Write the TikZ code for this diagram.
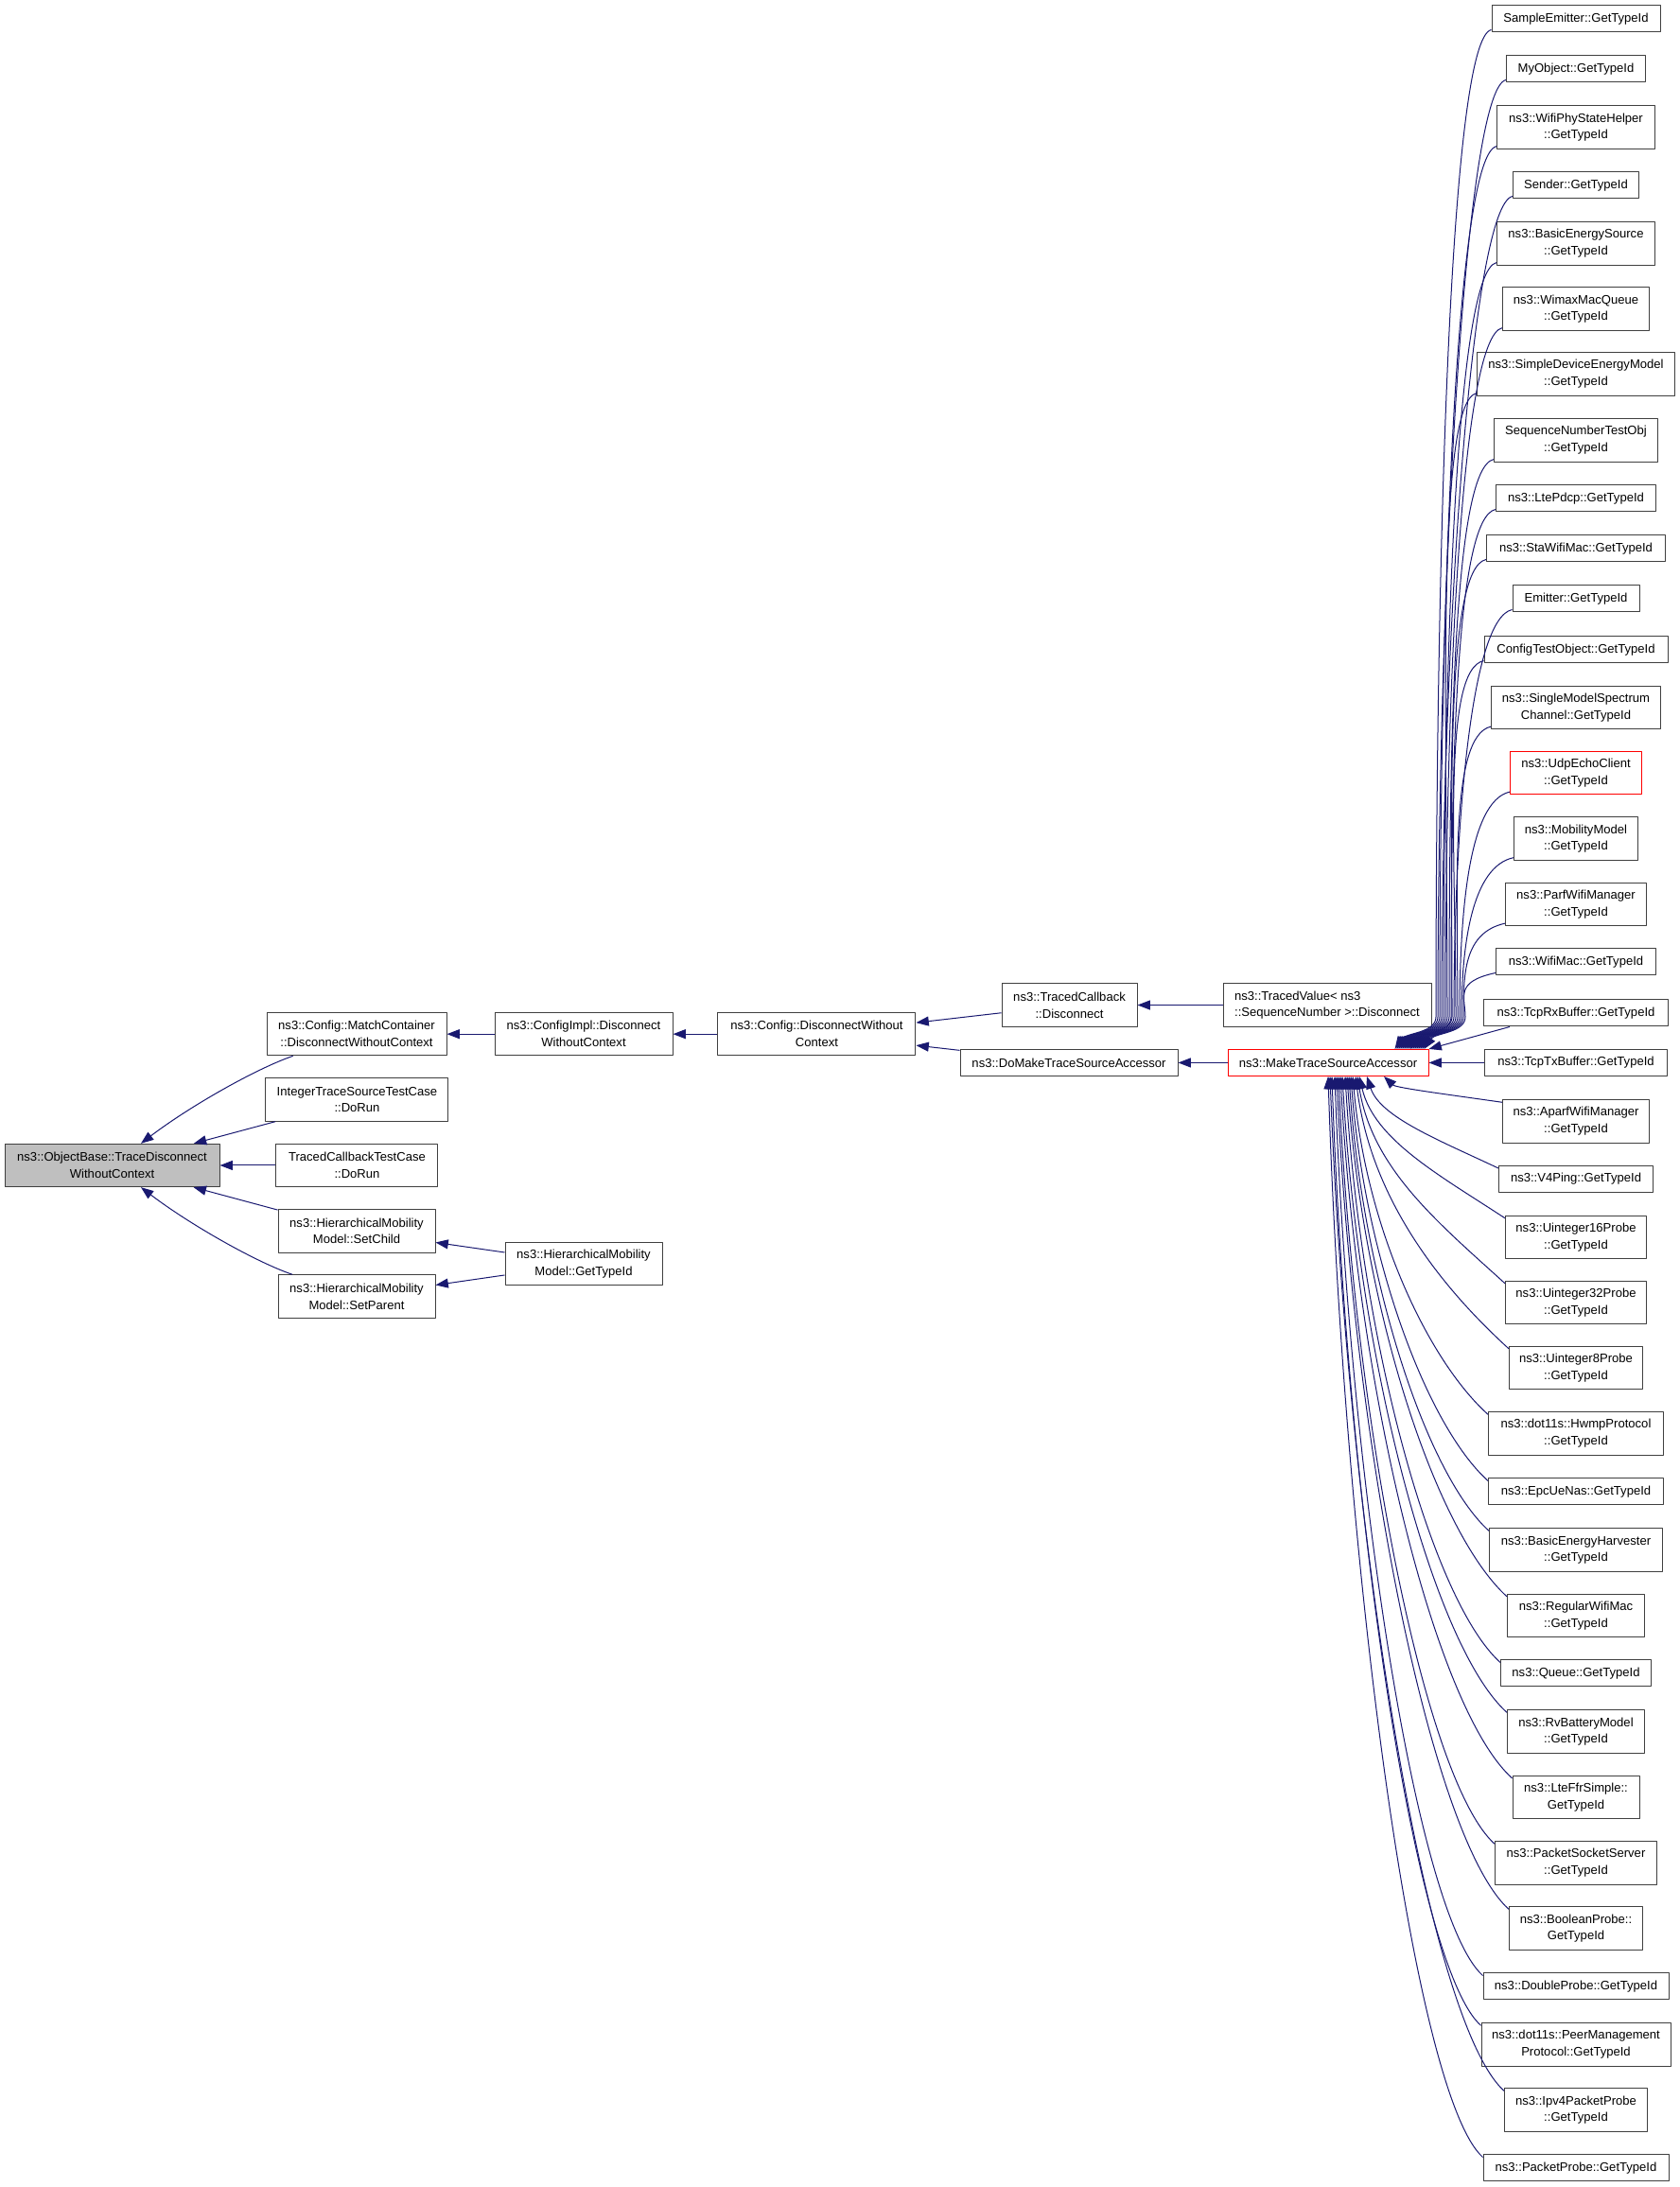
\documentclass[tikz,border=0pt]{standalone}
\usepackage{fontspec}
\setmainfont{Liberation Sans}
\usetikzlibrary{arrows.meta}
\definecolor{midnightblue}{HTML}{191970}
\tikzset{
  fn/.style={draw=black!75,fill=white,rectangle,line width=0.75bp,align=center,inner sep=2bp,
    minimum height=21bp,font=\fontsize{9.8bp}{13.3bp}\selectfont},
  fn2/.style={minimum height=34bp},
  arr/.style={draw=midnightblue,line width=0.75bp,<-},
}
\begin{document}
\begin{tikzpicture}[>={Triangle[length=10bp,width=7.5bp]},line join=bevel,]
    \useasboundingbox (0bp,0bp) rectangle (1332bp,1734bp);
    %%
    \node (1) at (88.9bp,810bp) [fn,fn2,fill=black!25,minimum width=170.25bp] {ns3::ObjectBase::TraceDisconnect\\WithoutContext};
    \node (2) at (282.75bp,914.1bp) [fn,fn2,minimum width=142.5bp] {ns3::Config::MatchContainer\\::DisconnectWithoutContext};
    \node (3) at (283.1bp,862.1bp) [fn,fn2,minimum width=144.75bp] {IntegerTraceSourceTestCase\\::DoRun};
    \node (4) at (283.1bp,810bp) [fn,fn2,minimum width=128.25bp] {TracedCallbackTestCase\\::DoRun};
    \node (5) at (282.75bp,757.9bp) [fn,fn2,minimum width=124.5bp] {ns3::HierarchicalMobility\\Model::SetChild};
    \node (6) at (282.75bp,706.1bp) [fn,fn2,minimum width=124.5bp] {ns3::HierarchicalMobility\\Model::SetParent};
    \node (7) at (462.75bp,914.1bp) [fn,fn2,minimum width=141bp] {ns3::ConfigImpl::Disconnect\\WithoutContext};
    \node (8) at (462.75bp,732bp) [fn,fn2,minimum width=124.5bp] {ns3::HierarchicalMobility\\Model::GetTypeId};
    \node (9) at (647.6bp,914.1bp) [fn,fn2,minimum width=156.75bp] {ns3::Config::DisconnectWithout\\Context};
    \node (10) at (847.9bp,937.1bp) [fn,fn2,minimum width=107.25bp] {ns3::TracedCallback\\::Disconnect};
    \node (11) at (847.5bp,891.4bp) [fn,minimum width=172.5bp] {ns3::DoMakeTraceSourceAccessor};
    \node (12) at (1052.25bp,937.1bp) [fn,fn2,align=left,minimum width=165bp] {ns3::TracedValue< ns3\\::SequenceNumber >::Disconnect};
    \node (13) at (1053bp,891.4bp) [fn,draw=red,minimum width=159bp] {ns3::MakeTraceSourceAccessor};
    \node (14) at (1249.5bp,1719bp) [fn,minimum width=133.5bp] {SampleEmitter::GetTypeId};
    \node (15) at (1249.5bp,1679.25bp) [fn,minimum width=110.25bp] {MyObject::GetTypeId};
    \node (16) at (1249.5bp,1633.1bp) [fn,fn2,minimum width=125.25bp] {ns3::WifiPhyStateHelper\\::GetTypeId};
    \node (17) at (1249.5bp,1587bp) [fn,minimum width=99.75bp] {Sender::GetTypeId};
    \node (18) at (1249.5bp,1540.9bp) [fn,fn2,minimum width=125.25bp] {ns3::BasicEnergySource\\::GetTypeId};
    \node (19) at (1249.5bp,1489.1bp) [fn,fn2,minimum width=116.25bp] {ns3::WimaxMacQueue\\::GetTypeId};
    \node (20) at (1249.5bp,1437.4bp) [fn,fn2,minimum width=156.75bp] {ns3::SimpleDeviceEnergyModel\\::GetTypeId};
    \node (21) at (1249.5bp,1384.9bp) [fn,fn2,minimum width=129.75bp] {SequenceNumberTestObj\\::GetTypeId};
    \node (22) at (1249.5bp,1338.75bp) [fn,minimum width=126.75bp] {ns3::LtePdcp::GetTypeId};
    \node (23) at (1249.5bp,1299bp) [fn,minimum width=141.75bp] {ns3::StaWifiMac::GetTypeId};
    \node (24) at (1249.5bp,1259.25bp) [fn,minimum width=100.5bp] {Emitter::GetTypeId};
    \node (25) at (1249.5bp,1218.75bp) [fn,minimum width=145.5bp] {ConfigTestObject::GetTypeId};
    \node (26) at (1249.5bp,1173bp) [fn,fn2,minimum width=134.25bp] {ns3::SingleModelSpectrum\\Channel::GetTypeId};
    \node (27) at (1249.5bp,1121.25bp) [fn,fn2,draw=red,minimum width=104.25bp] {ns3::UdpEchoClient\\::GetTypeId};
    \node (28) at (1249.5bp,1069.1bp) [fn,fn2,minimum width=98.25bp] {ns3::MobilityModel\\::GetTypeId};
    \node (29) at (1249.5bp,1017bp) [fn,fn2,minimum width=111.75bp] {ns3::ParfWifiManager\\::GetTypeId};
    \node (30) at (1249.5bp,971.25bp) [fn,minimum width=126.75bp] {ns3::WifiMac::GetTypeId};
    \node (31) at (1249.5bp,930.75bp) [fn,minimum width=146.25bp] {ns3::TcpRxBuffer::GetTypeId};
    \node (32) at (1249.5bp,891.4bp) [fn,minimum width=144.75bp] {ns3::TcpTxBuffer::GetTypeId};
    \node (33) at (1249.5bp,844.9bp) [fn,fn2,minimum width=116.25bp] {ns3::AparfWifiManager\\::GetTypeId};
    \node (34) at (1249.5bp,799.1bp) [fn,minimum width=122.25bp] {ns3::V4Ping::GetTypeId};
    \node (35) at (1249.5bp,753bp) [fn,fn2,minimum width=111.75bp] {ns3::Uinteger16Probe\\::GetTypeId};
    \node (36) at (1249.5bp,701.25bp) [fn,fn2,minimum width=111.75bp] {ns3::Uinteger32Probe\\::GetTypeId};
    \node (37) at (1249.5bp,649.5bp) [fn,fn2,minimum width=105.75bp] {ns3::Uinteger8Probe\\::GetTypeId};
    \node (38) at (1249.5bp,597.4bp) [fn,fn2,minimum width=138.75bp] {ns3::dot11s::HwmpProtocol\\::GetTypeId};
    \node (39) at (1249.5bp,551.25bp) [fn,minimum width=138.75bp] {ns3::EpcUeNas::GetTypeId};
    \node (40) at (1249.5bp,505.1bp) [fn,fn2,minimum width=137.25bp] {ns3::BasicEnergyHarvester\\::GetTypeId};
    \node (41) at (1249.5bp,453bp) [fn,fn2,minimum width=108.75bp] {ns3::RegularWifiMac\\::GetTypeId};
    \node (42) at (1249.5bp,407.25bp) [fn,minimum width=119.25bp] {ns3::Queue::GetTypeId};
    \node (43) at (1249.5bp,361.1bp) [fn,fn2,minimum width=108.75bp] {ns3::RvBatteryModel\\::GetTypeId};
    \node (44) at (1249.5bp,309bp) [fn,fn2,minimum width=100.5bp] {ns3::LteFfrSimple::\\GetTypeId};
    \node (45) at (1249.5bp,256.9bp) [fn,fn2,minimum width=128.25bp] {ns3::PacketSocketServer\\::GetTypeId};
    \node (46) at (1249.5bp,205.1bp) [fn,fn2,minimum width=105.75bp] {ns3::BooleanProbe::\\GetTypeId};
    \node (47) at (1249.5bp,159bp) [fn,minimum width=147bp] {ns3::DoubleProbe::GetTypeId};
    \node (48) at (1249.5bp,112.9bp) [fn,fn2,minimum width=150bp] {ns3::dot11s::PeerManagement\\Protocol::GetTypeId};
    \node (49) at (1249.5bp,61.1bp) [fn,fn2,minimum width=113.25bp] {ns3::Ipv4PacketProbe\\::GetTypeId};
    \node (50) at (1249.5bp,15bp) [fn,minimum width=147bp] {ns3::PacketProbe::GetTypeId};
    %%
    \draw [arr] (1) .. controls (150bp,856.5bp) and (202.5bp,886.5bp) .. (2);
    \draw [arr] (1) -- (3);
    \draw [arr] (1) -- (4);
    \draw [arr] (1) -- (5);
    \draw [arr] (1) .. controls (150bp,763.5bp) and (202.5bp,733.5bp) .. (6);
    \draw [arr] (2) -- (7);
    \draw [arr] (7) -- (9);
    \draw [arr] (9) -- (10);
    \draw [arr] (9) -- (11);
    \draw [arr] (10) -- (12);
    \draw [arr] (11) -- (13);
    \draw [arr] (5) -- (8);
    \draw [arr] (6) -- (8);
    \draw [arr] ([xshift=-27bp]13.north east) .. controls (1114.5bp,915bp) and (1138.5bp,915bp) .. (1138.5bp,927.75bp) .. controls (1138.5bp,1280.1bp) and (1149bp,1703.25bp) .. ([yshift=2.25bp]14.south west);
    \draw [arr] ([xshift=-25.5bp]13.north east) .. controls (1116bp,915bp) and (1140bp,915bp) .. (1140bp,927.75bp) .. controls (1140bp,1262.2bp) and (1161bp,1663.5bp) .. ([yshift=2.25bp]15.south west);
    \draw [arr] ([xshift=-24bp]13.north east) .. controls (1117.5bp,915bp) and (1141.5bp,915bp) .. (1141.5bp,927.75bp) .. controls (1141.5bp,1238.6bp) and (1153.5bp,1611bp) .. ([yshift=2.25bp]16.south west);
    \draw [arr] ([xshift=-22.5bp]13.north east) .. controls (1119bp,915bp) and (1143bp,915bp) .. (1143bp,927.75bp) .. controls (1143bp,1220.7bp) and (1166.25bp,1571.25bp) .. ([yshift=2.25bp]17.south west);
    \draw [arr] ([xshift=-21bp]13.north east) .. controls (1120.5bp,915bp) and (1144.5bp,915bp) .. (1144.5bp,927.75bp) .. controls (1144.5bp,1197.1bp) and (1153.5bp,1518.75bp) .. ([yshift=2.25bp]18.south west);
    \draw [arr] ([xshift=-19.5bp]13.north east) .. controls (1122bp,915bp) and (1146bp,915bp) .. (1146bp,927.75bp) .. controls (1146bp,1173.8bp) and (1158bp,1467bp) .. ([yshift=2.25bp]19.south west);
    \draw [arr] ([xshift=-18bp]13.north east) .. controls (1123.5bp,915bp) and (1147.5bp,915bp) .. (1147.5bp,927.75bp) .. controls (1147.5bp,1150.5bp) and (1137.75bp,1415.25bp) .. ([yshift=2.25bp]20.south west);
    \draw [arr] ([xshift=-16.5bp]13.north east) .. controls (1125bp,915bp) and (1149bp,915bp) .. (1149bp,927.75bp) .. controls (1149bp,1126.9bp) and (1151.25bp,1362.75bp) .. ([yshift=2.25bp]21.south west);
    \draw [arr] ([xshift=-15bp]13.north east) .. controls (1126.5bp,915bp) and (1150.5bp,915bp) .. (1150.5bp,927.75bp) .. controls (1150.5bp,1109bp) and (1152.75bp,1323bp) .. ([yshift=2.25bp]22.south west);
    \draw [arr] ([xshift=-14.25bp]13.north east) .. controls (1127.25bp,915bp) and (1151.25bp,915bp) .. (1151.25bp,927.75bp) .. controls (1151.25bp,1091.1bp) and (1145.25bp,1283.25bp) .. ([yshift=2.25bp]23.south west);
    \draw [arr] ([xshift=-12.75bp]13.north east) .. controls (1128.75bp,915bp) and (1152.75bp,915bp) .. (1152.75bp,927.75bp) .. controls (1152.75bp,1073.2bp) and (1165.5bp,1243.5bp) .. ([yshift=2.25bp]24.south west);
    \draw [arr] ([xshift=-11.25bp]13.north east) .. controls (1130.25bp,915bp) and (1154.25bp,915bp) .. (1154.25bp,927.75bp) .. controls (1154.25bp,1055bp) and (1143bp,1203bp) .. ([yshift=2.25bp]25.south west);
    \draw [arr] ([xshift=-9.75bp]13.north east) .. controls (1131.75bp,915bp) and (1155.75bp,915bp) .. (1155.75bp,927.75bp) .. controls (1155.75bp,1031.4bp) and (1149bp,1150.5bp) .. ([yshift=2.25bp]26.south west);
    \draw [arr] ([xshift=-8.25bp]13.north east) .. controls (1133.25bp,915bp) and (1157.25bp,915bp) .. (1157.25bp,927.75bp) .. controls (1157.25bp,1008.1bp) and (1164bp,1098.75bp) .. ([yshift=2.25bp]27.south west);
    \draw [arr] ([xshift=-6.75bp]13.north east) .. controls (1134.75bp,915bp) and (1158.75bp,915bp) .. (1158.75bp,927.75bp) .. controls (1158.75bp,984.75bp) and (1167bp,1047bp) .. ([yshift=2.25bp]28.south west);
    \draw [arr] ([xshift=-5.25bp]13.north east) .. controls (1136.25bp,915bp) and (1160.25bp,915bp) .. (1160.25bp,927.75bp) .. controls (1160.25bp,961.2bp) and (1160.25bp,994.5bp) .. ([yshift=2.25bp]29.south west);
    \draw [arr] ([xshift=-3.75bp]13.north east) .. controls (1137.75bp,915bp) and (1161.75bp,915bp) .. (1161.75bp,927.75bp) .. controls (1161.75bp,943.5bp) and (1152.75bp,955.5bp) .. ([yshift=2.25bp]30.south west);
    \draw [arr] (13.north east) -- ([xshift=21bp]31.south west);
    \draw [arr] (13) -- (32);
    \draw [arr] ([xshift=44.25bp]13.south) .. controls (1106.7bp,871.5bp) and (1149.2bp,866bp) .. ([yshift=-2.25bp]33.north west);
    \draw [arr] ([xshift=30.75bp]13.south) .. controls (1094.25bp,848.2bp) and (1141.5bp,829.8bp) .. ([yshift=-2.25bp]34.north west);
    \draw [arr] ([xshift=24.75bp]13.south) .. controls (1089.4bp,830.25bp) and (1141.7bp,802bp) .. ([yshift=-2.25bp]35.north west);
    \draw [arr] ([xshift=23.25bp]13.south) .. controls (1088bp,807bp) and (1141bp,763.95bp) .. ([yshift=-2.25bp]36.north west);
    \draw [arr] ([xshift=21.75bp]13.south) .. controls (1087bp,783.75bp) and (1142bp,714bp) .. ([yshift=-2.25bp]37.north west);
    \draw [arr] ([xshift=19.5bp]13.south) .. controls (1083.3bp,760.1bp) and (1131.9bp,655.7bp) .. ([yshift=-2.25bp]38.north west);
    \draw [arr] ([xshift=18bp]13.south) .. controls (1082bp,736.5bp) and (1131.2bp,603.8bp) .. ([yshift=-2.25bp]39.north west);
    \draw [arr] ([xshift=16.5bp]13.south) .. controls (1080.7bp,718.6bp) and (1131bp,565bp) .. ([yshift=-2.25bp]40.north west);
    \draw [arr] ([xshift=15bp]13.south) .. controls (1080.75bp,695.25bp) and (1138.1bp,519.7bp) .. ([yshift=-2.25bp]41.north west);
    \draw [arr] ([xshift=13.5bp]13.south) .. controls (1078.9bp,671.7bp) and (1134.6bp,465.6bp) .. ([yshift=-2.25bp]42.north west);
    \draw [arr] ([xshift=11.25bp]13.south) .. controls (1077.4bp,653.8bp) and (1136.4bp,428.9bp) .. ([yshift=-2.25bp]43.north west);
    \draw [arr] ([xshift=9.75bp]13.south) .. controls (1076.4bp,630.5bp) and (1137.8bp,379.3bp) .. ([yshift=-2.25bp]44.north west);
    \draw [arr] ([xshift=8.25bp]13.south) .. controls (1073.7bp,606.9bp) and (1129.7bp,321.9bp) .. ([yshift=-2.25bp]45.north west);
    \draw [arr] ([xshift=6.75bp]13.south) .. controls (1073.5bp,583.6bp) and (1135.2bp,275.3bp) .. ([yshift=-2.25bp]46.north west);
    \draw [arr] ([xshift=5.25bp]13.south) .. controls (1070bp,560bp) and (1123bp,214.95bp) .. ([yshift=-2.25bp]47.north west);
    \draw [arr] ([xshift=3bp]13.south) .. controls (1067.85bp,542.1bp) and (1121.2bp,175.5bp) .. ([yshift=-2.25bp]48.north west);
    \draw [arr] ([xshift=1.5bp]13.south) .. controls (1068.4bp,518.8bp) and (1130.8bp,131.9bp) .. ([yshift=-2.25bp]49.north west);
    \draw [arr] (13.south) .. controls (1065.3bp,495.15bp) and (1120.65bp,73.05bp) .. ([yshift=-2.25bp]50.north west);
    %
\end{tikzpicture}
\end{document}
